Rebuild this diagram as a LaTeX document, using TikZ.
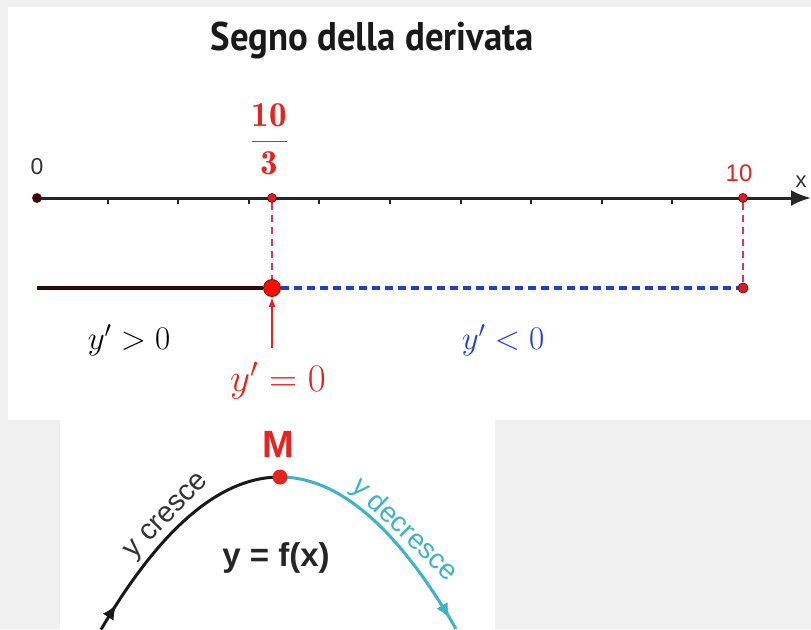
\RequirePackage{fix-cm}
\documentclass[tikz,border=0pt]{standalone}
\usepackage{amsmath}
\usepackage{fontspec}
\setsansfont{Liberation Sans}
\newfontfamily\titlefont{PT Sans}
\usetikzlibrary{arrows.meta, decorations.markings}

\definecolor{panelgray}{HTML}{F0F0F0}
\definecolor{labred}{HTML}{E52421}
\definecolor{dotred}{HTML}{D81E2A}
\definecolor{dashred}{HTML}{E3325A}
\definecolor{darkmaroon}{HTML}{2E0A0A}
\definecolor{signblue}{HTML}{1F3FCC}
\definecolor{curveteal}{HTML}{3CB4C6}
\definecolor{inkgray}{HTML}{333333}

\tikzset{
  dot/.style={circle, fill=dotred, draw=darkmaroon!70!red, line width=0.8, inner sep=0pt, minimum size=9},
  bigdot/.style={dot, fill=red!90!orange, minimum size=17},
  topdot/.style={circle, fill=labred, inner sep=0pt, minimum size=15},
  curve/.style={line width=3},
  midarrow/.style={postaction={decorate}, decoration={markings,
      mark=at position #1 with {\arrow{Latex[length=15,width=13]}}}},
  sanslab/.style={font=\sffamily\fontsize{#1}{#1}\selectfont},
  boldlab/.style={font=\sffamily\bfseries\fontsize{#1}{#1}\selectfont},
  mathlab/.style={font=\fontsize{#1}{#1}\selectfont}
}

\begin{document}
\begin{tikzpicture}[x=1pt, y=-1pt]
        % Panels
        \fill[panelgray] (0,0) rectangle (811,629);
        \fill[white] (8,7) rectangle (811,420);
        \fill[white] (60,420) rectangle (495,629);
        \useasboundingbox (0,0) rectangle (811,629);

        % Title
        \node[font=\titlefont\bfseries\fontsize{40}{40}\selectfont, text=black!90] (title) at (372,40) {\scalebox{0.92}[1]{Segno della derivata}};

        % Axis
        \coordinate (O) at (37,198);
        \coordinate (xend) at (811,198);
        \draw[line width=3, black!85, -{Latex[length=20,width=16]}] (O) -- (xend);
        \foreach \k in {1,...,9} {
            \draw[line width=2, black!85] ({37+70.6*\k},198) -- ++(0,6);
        }

        % Points on the axis
        \node[dot, fill=darkmaroon] (p0) at (O) {};
        \node[dot] (p1) at (272,198) {};
        \node[dot] (p2) at (743,198) {};
        \node[sanslab=23, text=inkgray] (l0) at (37,167) {0};
        \node[mathlab=35, text=labred] (l1) at (269,139) {$\dfrac{\mathbf{10}}{\mathbf{3}}$};
        \node[sanslab=24, text=labred] (l2) at (739,173) {10};
        \node[sanslab=22, text=inkgray] (lx) at (801,182) {x};

        % Sign line
        \coordinate (s0) at (37,288);
        \node[bigdot] (q1) at (272,288) {};
        \node[dot, minimum size=10] (q2) at (743,288) {};
        \draw[dashred, line width=1.6, dash pattern=on 7 off 5] (p1) -- (q1);
        \draw[dashred, line width=1.6, dash pattern=on 7 off 5] (p2) -- (q2);
        \draw[darkmaroon, line width=4] (s0) -- (q1);
        \draw[signblue, line width=3.5, dash pattern=on 8 off 5] (q1) -- (q2);

        % Sign labels
        \node[mathlab=33] (pos) at (129,340) {$y'>0$};
        \node[mathlab=33, text=signblue] (neg) at (503,340) {$y'<0$};
        \node[mathlab=39, text=labred] (zero) at (278,381) {$y'=0$};
        \coordinate (zarrow) at (272,348);
        \draw[labred, line width=1.5, -{Latex[length=10,width=7]}] (zarrow) -- (q1);

        % Curve with maximum M
        \draw[curve, black!90, midarrow=0.12] plot[domain=-179:0, samples=50] ({280+\x},{477+(0.069*\x)^2});
        \draw[curve, curveteal, midarrow=0.95] plot[domain=0:176, samples=50] ({280+\x},{477+(0.07*\x)^2});
        \node[topdot] (M) at (280,477) {};
        \node[boldlab=38, text=labred] (Mlab) at (278,444) {M};
        \node[sanslab=29, text=inkgray, rotate=46] (up) at (168,517) {y cresce};
        \node[sanslab=28, text=curveteal, rotate=-44] (down) at (404,530) {y decresce};
        \node[boldlab=33, text=black!85] (fx) at (276,558) {y = f(x)};
\end{tikzpicture}
\end{document}
